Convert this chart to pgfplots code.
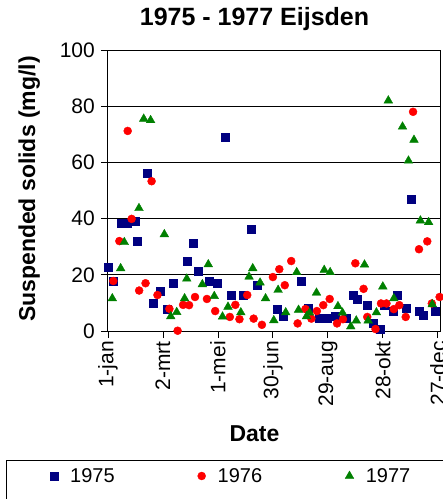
\documentclass[border=0pt]{standalone}
\usepackage{fontspec}
\setmainfont{Liberation Sans}
\usepackage{pgfplots}
\pgfplotsset{compat=1.18}
\definecolor{c75}{RGB}{0,0,128}
\definecolor{c76}{RGB}{255,0,0}
\definecolor{c77}{RGB}{0,128,0}

\begin{document}
\begin{tikzpicture}
\begin{axis}[
  scale only axis, width=333pt, height=281pt,
  xmin=0, xmax=363.5, ymin=0, ymax=100,
  xtick={0,60,...,360},
  xticklabels={1-jan,2-mrt,1-mei,30-jun,29-aug,28-okt,27-dec},
  ytick={0,20,...,100},
  xtick pos=bottom, ytick pos=left,
  ymajorgrids, grid style={black, line width=0.8pt},
  tick align=outside, major tick length=7pt,
  tick style={black, line width=0.8pt},
  axis line style={line width=1pt},
  /pgf/number format/assume math mode=true,
  xticklabel style={rotate=90, anchor=east, font=\fontsize{21}{25}\selectfont, inner sep=3pt},
  yticklabel style={font=\fontsize{21}{25}\selectfont, inner sep=6pt},
  title={1975 - 1977 Eijsden},
  title style={at={(axis description cs:0.44,1.065)}, anchor=base, font=\fontsize{25}{30}\selectfont\bfseries},
  xlabel={Date},
  xlabel style={at={(axis description cs:0.44,-0.395)}, anchor=base, font=\fontsize{23}{27}\selectfont\bfseries},
  ylabel={Suspended solids (mg/l)},
  ylabel style={at={(axis description cs:-0.219,0.505)}, anchor=base, font=\fontsize{23}{27}\selectfont\bfseries},
  clip=false,
  legend columns=3,
  legend style={draw=none, fill=none, at={(axis description cs:-0.1742,-0.516)}, anchor=west,
    inner sep=0pt, font=\fontsize{20}{24}\selectfont, nodes={inner sep=0pt},
    /tikz/every odd column/.append style={column sep=12pt},
    /tikz/every even column/.append style={column sep=83pt}},
  legend image code/.code={\draw[mark repeat=2,mark phase=2,#1] plot coordinates {(0pt,0pt)(8pt,0pt)(16pt,0pt)};},
]
% 1975
\addplot[only marks, mark=square*, color=c75, mark size=4pt] coordinates {
(0,22.7) (6,17.8) (14.2,38.3) (21.5,38.3) (30.2,39.1) (32.4,32) (43,56.2)
(49.5,9.8) (56.7,14.2) (64.5,7.9) (71.7,17) (87,24.9) (93.5,31.2) (98,21.4)
(111,17.8) (119,17) (128,69) (135,12.8) (148,12.8) (156,36.3) (163,16.4)
(185,7.9) (191,5.1) (211,17.8) (218.5,8.1) (231,4.4) (239,4.4) (248,5.1)
(260,4.4) (268,12.8) (272,11.3) (283,9.2) (290,2.7) (297,0.7) (301,9.3)
(311,7) (316,12.8) (325,8) (331,46.9) (340,7) (344,5.7) (357.5,7)
};
% 1976
\addplot[only marks, mark=*, color=c76, mark size=4pt] coordinates {
(5.8,17.8) (12.4,32) (21.5,71.2) (25.8,39.9) (34,14.4) (41,17) (47.6,53.3)
(54,12.8) (67,7.9) (76,0.1) (82,9.3) (88.5,9.2) (95,12.1) (108,11.4)
(117,7.1) (133,5) (139,9.3) (143.5,4.2) (152,12.8) (159,4.4) (168,2.2)
(180,19.2) (187,22) (193,16.3) (200,24.9) (207,2.7) (215.5,7.8) (222,4.4)
(228,7.1) (235,9.2) (242,11.4) (250,2.7) (256.5,4.2) (270,24.1) (279,15)
(283,5) (292,0.7) (298,9.8) (304,9.8) (312,7.8) (318,9.2) (325,5)
(333,78) (339.5,29.1) (348.5,31.9) (353.5,9.8) (362,12.1)
};
% 1977
\addplot[only marks, mark=triangle*, color=c77, mark size=5pt] coordinates {
(4.7,11.6) (13.8,22.3) (17.8,31.6) (33.8,43.7) (39,75.5) (46.5,75) (61.5,34.4)
(68.5,5.2) (75,6.7) (83.6,11.6) (86,18.6) (103,16.6) (109.5,23.7) (116,12.4)
(125,5.1) (131,8.6) (145,6.6) (154,19.3) (158,22.3) (166,17.2) (172,11.6)
(181,3.8) (185.7,14.6) (194,6.6) (206,20.9) (208,7.5) (216.7,5.2) (220,6.5)
(227.6,13.6) (236,21.7) (242.5,20.9) (251,8.8) (256,6.5) (265,1.6) (271,3.7)
(280,23.6) (284,3.7) (293,6.6) (300,15.8) (306,82) (312,11.6) (321.5,72.7)
(328,60.6) (334,68) (341,39.3) (350,38.7) (354,9.5)
};
\legend{1975,1976,1977}
\end{axis}
\draw[line width=1pt, black] ([shift={(-101pt,-129pt)}]current axis.south west) rectangle ++(600pt,-100pt);
\pgfresetboundingbox
\path[use as bounding box] ([shift={(-108pt,-168pt)}]current axis.south west) rectangle ++(443pt,499pt);
\end{tikzpicture}
\end{document}
